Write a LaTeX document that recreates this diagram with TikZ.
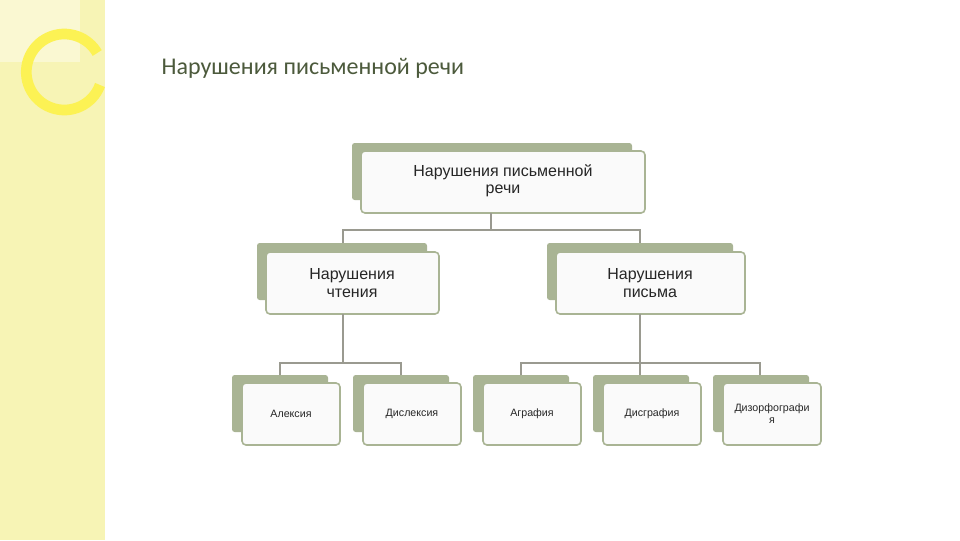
\documentclass[tikz,border=0pt]{standalone}
\usepackage{fontspec}
\setmainfont{Liberation Sans}
\newfontfamily\titlefont{Carlito}
\begin{document}
\begin{tikzpicture}[x=0.75pt,y=-0.75pt,
  backbox/.style={fill=black!25!green!20!gray!70, fill=backc, rounded corners=2pt, draw=none},
  frontbox/.style={fill=frontc, draw=borderc, line width=1.2pt, rounded corners=3pt},
  conn/.style={draw=linec, line width=0.8pt},
  lbl/.style={align=center, font=\fontsize{12}{13}\selectfont, text=black!85},
  slbl/.style={align=center, font=\fontsize{8}{9}\selectfont, text=black!85}]
\definecolor{backc}{HTML}{A9B494}
\definecolor{frontc}{HTML}{FAFAFA}
\definecolor{borderc}{HTML}{A9B494}
\definecolor{linec}{HTML}{9A9A90}
\definecolor{stripc}{HTML}{F7F4B5}
\definecolor{titlec}{HTML}{4C5A3C}
\useasboundingbox (0,0) rectangle (960,540);
\fill[white] (0,0) rectangle (960,540);
\fill[stripc] (0,0) rectangle (105,540);
\fill[white,opacity=0.4] (0,0) rectangle (80,62);
\draw[yellow!55!stripc, line width=8pt] (100,85) arc (20:330:38);
\node[anchor=west, text=titlec, font=\titlefont\fontsize{18}{20}\selectfont] (title) at (157,68) {Нарушения письменной речи};
% top
\fill[backc, rounded corners=2pt] (352,143) rectangle (632,200);
\draw[frontbox] (361,151) rectangle (645,213);
\node[lbl] (top) at (503,181) {Нарушения письменной\\речи};
% level 2
\fill[backc, rounded corners=2pt] (257,243) rectangle (427,300);
\draw[frontbox] (266,252) rectangle (439,314);
\node[lbl] (rd) at (352,283) {Нарушения\\чтения};
\fill[backc, rounded corners=2pt] (547,243) rectangle (733,300);
\draw[frontbox] (556,252) rectangle (745,314);
\node[lbl] (wr) at (650,283) {Нарушения\\письма};
% level 3
\foreach \xx/\nm/\t in {232/a/Алексия,353/b/Дислексия,473/c/Аграфия,593/d/Дисграфия,713/e/{Дизорфографи\\я}}{
  \fill[backc, rounded corners=2pt] (\xx,375) rectangle (\xx+96,432);
  \draw[frontbox] (\xx+10,383) rectangle (\xx+108,445);
  \node[slbl] (\nm) at (\xx+59,414) {\t};
}
\coordinate (t1) at (491,213);
\coordinate (t2) at (491,230);
\draw[conn] (t1) -- (t2);
\draw[conn] (343,243) -- (343,230) -- (640,230) -- (640,243);
\draw[conn] (343,314) -- (343,363);
\draw[conn] (280,375) -- (280,363) -- (401,363) -- (401,375);
\draw[conn] (640,314) -- (640,363);
\draw[conn] (521,375) -- (521,363) -- (760,363) -- (760,375);
\draw[conn] (640,363) -- (640,375);
\end{tikzpicture}
\end{document}
